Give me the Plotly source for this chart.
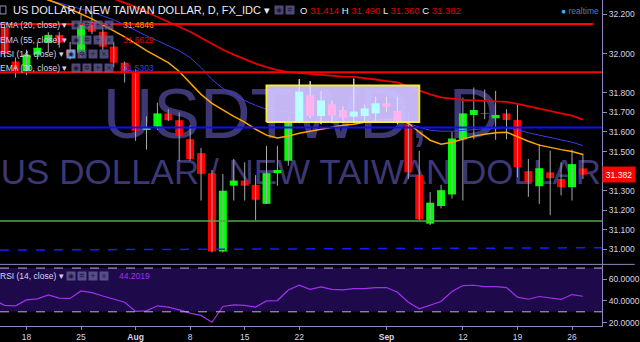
import plotly.graph_objects as go

# ---------------- data ----------------
dates = [
    '2016-07-13', '2016-07-14', '2016-07-15', '2016-07-18', '2016-07-19', '2016-07-20', '2016-07-21', '2016-07-22',
    '2016-07-25', '2016-07-26', '2016-07-27', '2016-07-28', '2016-07-29',
    '2016-08-01', '2016-08-02', '2016-08-03', '2016-08-04', '2016-08-05',
    '2016-08-08', '2016-08-09', '2016-08-10', '2016-08-11', '2016-08-12',
    '2016-08-15', '2016-08-16', '2016-08-17', '2016-08-18', '2016-08-19',
    '2016-08-22', '2016-08-23', '2016-08-24', '2016-08-25', '2016-08-26',
    '2016-08-29', '2016-08-30', '2016-08-31', '2016-09-01', '2016-09-02',
    '2016-09-05', '2016-09-06', '2016-09-07', '2016-09-08', '2016-09-09',
    '2016-09-12', '2016-09-13', '2016-09-14', '2016-09-15', '2016-09-16',
    '2016-09-19', '2016-09-20', '2016-09-21', '2016-09-22', '2016-09-23',
    '2016-09-26', '2016-09-27',
]
candle_dates = dates[1:]

open_ = [32.13, 31.96, 31.91, 31.995, 32.056, 32.096, 32.02,
         32.005, 32.162, 32.112, 32.036, 31.954,
         31.904, 31.611, 31.628, 31.695, 31.66,
         31.563, 31.492, 31.389, 30.99, 31.326,
         31.352, 31.33, 31.233, 31.39, 31.453,
         31.651, 31.787, 31.682, 31.741, 31.712,
         31.679, 31.682, 31.695, 31.746, 31.707,
         31.64, 31.381, 31.132, 31.222, 31.281,
         31.563, 31.687, 31.697, 31.67, 31.695,
         31.661, 31.40, 31.323, 31.394, 31.36,
         31.318, 31.414]
high = [32.16, 31.98, 32.02, 32.06, 32.11, 32.11, 32.06,
        32.20, 32.21, 32.16, 32.06, 31.96,
        31.92, 31.68, 31.75, 31.716, 31.70,
        31.635, 31.518, 31.406, 31.386, 31.462,
        31.445, 31.38, 31.529, 31.529, 31.68,
        31.87, 31.86, 31.81, 31.76, 31.73,
        31.873, 31.74, 31.78, 31.78, 31.78,
        31.707, 31.504, 31.293, 31.33, 31.60,
        31.775, 31.827, 31.817, 31.81, 31.716,
        31.741, 31.462, 31.538, 31.505, 31.445,
        31.51, 31.49]
low = [31.98, 31.878, 31.89, 31.97, 32.005, 32.03, 31.97,
       31.98, 32.10, 32.02, 31.93, 31.853,
       31.555, 31.51, 31.61, 31.656, 31.45,
       31.453, 31.25, 30.985, 30.985, 31.25,
       31.25, 31.149, 31.233, 31.326, 31.428,
       31.645, 31.67, 31.64, 31.645, 31.645,
       31.645, 31.655, 31.655, 31.70, 31.64,
       31.36, 31.15, 31.125, 31.21, 31.26,
       31.25, 31.563, 31.665, 31.56, 31.563,
       31.369, 31.269, 31.233, 31.175, 31.276,
       31.25, 31.36]
close = [32.00, 31.91, 31.995, 32.03, 32.096, 32.056, 31.99,
         32.157, 32.112, 32.036, 31.954, 31.904,
         31.606, 31.619, 31.695, 31.66, 31.58,
         31.462, 31.386, 30.99, 31.30, 31.352,
         31.326, 31.254, 31.39, 31.406, 31.656,
         31.806, 31.682, 31.761, 31.685, 31.674,
         31.704, 31.72, 31.746, 31.73, 31.656,
         31.394, 31.154, 31.239, 31.303, 31.567,
         31.695, 31.712, 31.693, 31.687, 31.661,
         31.42, 31.343, 31.415, 31.364, 31.318,
         31.436, 31.382]

ema20 = [32.34, 32.33, 32.32, 32.315, 32.294, 32.274, 32.254, 32.228,
         32.203, 32.178, 32.147, 32.117, 32.086,
         32.051, 32.015, 31.985, 31.954, 31.909,
         31.848, 31.792, 31.746, 31.711, 31.680,
         31.650, 31.614, 31.584, 31.569, 31.579,
         31.594, 31.604, 31.614, 31.624, 31.635,
         31.640, 31.650, 31.660, 31.665, 31.662,
         31.645, 31.599, 31.558, 31.538, 31.548,
         31.563, 31.579, 31.589, 31.596, 31.599,
         31.574, 31.553, 31.533, 31.520, 31.510,
         31.500, 31.4846]
ema30 = [32.35, 32.335, 32.32, 32.305, 32.289, 32.274, 32.259, 32.244,
         32.228, 32.213, 32.193, 32.173, 32.147,
         32.117, 32.091, 32.066, 32.041, 32.015,
         31.980, 31.929, 31.868, 31.822, 31.792,
         31.761, 31.736, 31.716, 31.706, 31.701,
         31.698, 31.695, 31.693, 31.688, 31.683,
         31.678, 31.673, 31.665, 31.660, 31.655,
         31.645, 31.624, 31.609, 31.604, 31.604,
         31.607, 31.612, 31.617, 31.619, 31.622,
         31.612, 31.596, 31.584, 31.571, 31.561,
         31.548, 31.5303]
ema55 = [32.40, 32.39, 32.38, 32.37, 32.36, 32.35, 32.34, 32.33,
         32.32, 32.31, 32.295, 32.28, 32.259,
         32.239, 32.213, 32.188, 32.162, 32.137,
         32.112, 32.081, 32.051, 32.020, 31.995,
         31.970, 31.949, 31.931, 31.916, 31.906,
         31.901, 31.896, 31.891, 31.886, 31.883,
         31.881, 31.876, 31.868, 31.860, 31.853,
         31.832, 31.812, 31.792, 31.777, 31.769,
         31.764, 31.761, 31.759, 31.756, 31.754,
         31.744, 31.731, 31.721, 31.708, 31.695,
         31.683, 31.6629]
rsi = [41.0, 35.9, 35.5, 40.9, 41.8, 45.5, 42.5, 42.2,
       49.1, 47.6, 44.5, 41.5, 38.8,
       30.4, 30.9, 35.5, 34.3, 31.8,
       28.8, 26.7, 20.4, 34.9, 36.4,
       35.8, 34.3, 40.0, 40.3, 50.0,
       54.3, 50.6, 52.8, 50.6, 50.0,
       51.2, 51.2, 52.2, 52.2, 47.9,
       38.8, 32.8, 36.4, 39.4, 48.5,
       54.0, 54.3, 53.1, 53.1, 52.2,
       43.4, 41.5, 44.0, 42.5, 41.3,
       45.8, 44.2019]

# horizontal levels drawn on the chart
level_red_top = 32.152
level_red_mid = 31.905
level_blue = 31.623
level_green = 31.146
dashed_start, dashed_end = 30.997, 31.009

# highlighted consolidation box
box_x0, box_x1 = '2016-08-17', '2016-09-06'
box_bottom, box_top = 31.651, 31.838

price_ticks = [31.0, 31.1, 31.2, 31.3, 31.5, 31.6, 31.7, 31.8, 32.0, 32.2]
rsi_ticks = [20, 40, 60]
date_ticks = ['2016-07-18', '2016-07-25', '2016-08-01', '2016-08-08', '2016-08-15', '2016-08-22',
              '2016-09-01', '2016-09-12', '2016-09-19', '2016-09-26']
date_tick_text = ['18', '25', '<b>Aug</b>', '8', '15', '22', '<b>Sep</b>', '12', '19', '26']

last_o, last_h, last_l, last_c = 31.414, 31.490, 31.360, 31.382

# ---------------- styling helpers ----------------
W_PLOT, H_PLOT = 607, 328
SPLIT_Y = 266


def px(x):
    return x / W_PLOT


def py(y):
    return 1 - y / H_PLOT


UP = '#00ff00'
DOWN = '#ff0000'
UP_BOX = '#b8ffff'
DOWN_BOX = '#ffb4ee'
WICK = '#a8a8b0'
AXIS = '#8e89bd'
TXT = '#d6d4ea'
FONT = 'Liberation Sans, Arial, sans-serif'

fig = go.Figure()


def wick_trace(idx, col):
    wx, wy = [], []
    for i in idx:
        wx += [candle_dates[i], candle_dates[i], None]
        wy += [low[i], high[i], None]
    fig.add_trace(go.Scatter(x=wx, y=wy, mode='lines', line=dict(color=col, width=1),
                             hoverinfo='skip', showlegend=False, xaxis='x', yaxis='y'))


all_idx = list(range(len(candle_dates)))
wick_trace(all_idx, WICK)
fig.add_trace(go.Bar(
    x=candle_dates,
    base=[min(o, c) for o, c in zip(open_, close)],
    y=[max(abs(c - o), 0.004) for o, c in zip(open_, close)],
    width=0.73,
    marker=dict(color=[UP if c >= o else DOWN for o, c in zip(open_, close)], line=dict(width=0)),
    showlegend=False, xaxis='x', yaxis='y'))

# EMAs
fig.add_trace(go.Scatter(x=dates, y=ema30, mode='lines', line=dict(color='#3c3cf0', width=1),
                         showlegend=False, xaxis='x', yaxis='y'))
fig.add_trace(go.Scatter(x=dates, y=ema20, mode='lines', line=dict(color='#ffa500', width=1.5),
                         showlegend=False, xaxis='x', yaxis='y'))
fig.add_trace(go.Scatter(x=dates, y=ema55, mode='lines', line=dict(color='#e80000', width=1.8),
                         showlegend=False, xaxis='x', yaxis='y'))

# highlighted box (drawn as a trace so the candles inside can sit above it)
fig.add_trace(go.Scatter(x=[box_x0, box_x1, box_x1, box_x0, box_x0],
                         y=[box_bottom, box_bottom, box_top, box_top, box_bottom],
                         mode='lines', fill='toself', fillcolor='rgba(206,192,255,0.95)',
                         line=dict(color='#f4ec3c', width=2), hoverinfo='skip',
                         showlegend=False, xaxis='x', yaxis='y'))
in_box = [i for i in all_idx
          if box_x0 < candle_dates[i] < box_x1
          and box_bottom <= min(open_[i], close[i]) and max(open_[i], close[i]) <= box_top]
wick_trace(in_box, '#e6e4f2')
for up, col in ((True, UP_BOX), (False, DOWN_BOX)):
    bx, by = [], []
    for i in in_box:
        if (close[i] >= open_[i]) == up:
            bx += [candle_dates[i], candle_dates[i], None]
            by += [min(open_[i], close[i]), max(open_[i], close[i]), None]
    fig.add_trace(go.Scatter(x=bx, y=by, mode='lines', line=dict(color=col, width=8),
                             hoverinfo='skip', showlegend=False, xaxis='x', yaxis='y'))

# RSI
fig.add_trace(go.Scatter(x=dates, y=rsi, mode='lines', line=dict(color='#a030f0', width=1.2),
                         showlegend=False, xaxis='x', yaxis='y2'))

shapes = [
    # watermark texts (below everything)
    dict(type='rect', xref='paper', yref='paper', x0=px(0), x1=px(607), y0=py(146), y1=py(70),
         line=dict(width=0), fillcolor='rgba(0,0,0,0)', layer='below',
         label=dict(text='USDTWD, D', textposition='middle center',
                    font=dict(size=70, color='#3d3874', family=FONT))),
    dict(type='rect', xref='paper', yref='paper', x0=px(0), x1=px(607), y0=py(190), y1=py(150),
         line=dict(width=0), fillcolor='rgba(0,0,0,0)', layer='below',
         label=dict(text='US DOLLAR / NEW TAIWAN DOLLAR', textposition='middle center',
                    font=dict(size=35, color='#3d3874', family=FONT))),
    # RSI band
    dict(type='rect', xref='paper', yref='y2', x0=0, x1=1, y0=30, y1=70,
         fillcolor='#1e0a4b', line=dict(width=0), layer='below'),
    dict(type='line', xref='paper', yref='y2', x0=0, x1=1, y0=70, y1=70,
         line=dict(color='#b8b0d8', width=1, dash='dash')),
    dict(type='line', xref='paper', yref='y2', x0=0, x1=1, y0=30, y1=30,
         line=dict(color='#b8b0d8', width=1, dash='dash')),
    # pane separator
    dict(type='line', xref='paper', yref='paper', x0=0, x1=640 / W_PLOT, y0=py(SPLIT_Y), y1=py(SPLIT_Y),
         line=dict(color=AXIS, width=1)),
    # horizontal levels
    dict(type='line', xref='paper', yref='y', x0=0, x1=px(598), y0=level_red_top, y1=level_red_top,
         line=dict(color='#ff0000', width=2)),
    dict(type='line', xref='paper', yref='y', x0=0, x1=1, y0=level_red_mid, y1=level_red_mid,
         line=dict(color='#ff0000', width=2)),
    dict(type='line', xref='paper', yref='y', x0=0, x1=1, y0=level_blue, y1=level_blue,
         line=dict(color='#0a10ff', width=2)),
    dict(type='line', xref='paper', yref='y', x0=0, x1=1, y0=level_green, y1=level_green,
         line=dict(color='#4cab44', width=1.5)),
    dict(type='line', xref='paper', yref='y', x0=0, x1=1, y0=dashed_start, y1=dashed_end,
         line=dict(color='#1a1aff', width=1.5, dash='dash')),
    # small collapse icon
    dict(type='rect', xref='paper', yref='paper', x0=px(0), x1=px(6), y0=py(14), y1=py(6),
         line=dict(color='#9a96c0', width=1), fillcolor='rgba(0,0,0,0)'),
]

ann = []


def text(x, y, s, size=8.5, color=TXT, anchor='left', **kw):
    ann.append(dict(xref='paper', yref='paper', x=px(x), y=py(y), text=s, showarrow=False,
                    xanchor=anchor, yanchor='middle', font=dict(size=size, color=color, family=FONT), **kw))


def icons(x, y, syms, first_col='rgba(105,100,160,0.75)'):
    for k, s in enumerate(syms):
        col = first_col if k == 0 else 'rgba(105,100,160,0.75)'
        ann.append(dict(xref='paper', yref='paper', x=px(x + 11 * k), y=py(y), text=s, showarrow=False,
                        xanchor='left', yanchor='middle', width=7, height=7,
                        bgcolor=col, borderpad=0.5,
                        font=dict(size=7, color='#1c1a30', family='DejaVu Sans')))


# header
text(11, 10.5, 'US DOLLAR / NEW TAIWAN DOLLAR, D, FX_IDC ▾', size=11, color='#ecebf7')
icons(276, 10.5, ['◉', '✲'])
red = '#e00000'
text(300, 10.5,
     f"O <span style='color:{red}'>{last_o:.3f}</span> H <span style='color:{red}'>{last_h:.3f}</span> "
     f"L <span style='color:{red}'>{last_l:.3f}</span> C <span style='color:{red}'>{last_c:.3f}</span>",
     size=9.5, color='#ecebf7')
text(564, 11, "<span style='color:#4aa8f0'>●</span> realtime", size=8.5, color='#3f86b8')

# legend rows
rows = [(25, 'EMA (20, close) ▾', f'{ema20[-1]:.4f}', '#ffa500', 72, False),
        (40, 'EMA (55, close) ▾', f'{ema55[-1]:.4f}', '#e00000', 72, False),
        (54.5, 'RSI (14, close) ▾', None, None, 67, True),
        (68.5, 'EMA (30, close) ▾', f'{ema30[-1]:.4f}', '#3c3cf0', 72, False)]
for y, label, val, vcol, ix, hl in rows:
    text(-2, y, label, size=8.5)
    icons(ix, y, ['◉', '✲', '+', '×'], first_col='rgba(120,170,240,0.9)' if hl else 'rgba(105,100,160,0.75)')
    if val:
        text(122, y, val, size=8.5, color=vcol)

text(-2, 278, 'RSI (14, close) ▾', size=8.5)
icons(67, 278, ['◉', '✲', '+', '×'])
text(118, 278, f'{rsi[-1]:.4f}', size=8.5, color='#a030f0')

# last price label on axis
ann.append(dict(xref='paper', yref='y', x=1, y=last_c, text=f'{last_c:.3f}', showarrow=False,
                xanchor='left', yanchor='middle', bgcolor='#ff0000', width=30, height=13, borderpad=1,
                font=dict(size=8.5, color='#ffffff', family=FONT)))

fig.update_layout(
    width=640, height=342,
    margin=dict(l=0, r=33, t=0, b=14),
    paper_bgcolor='#000000', plot_bgcolor='#000000',
    barmode='overlay', showlegend=False,
    shapes=shapes, annotations=ann,
    xaxis=dict(type='category', categoryorder='array', categoryarray=dates,
               anchor='y2', range=[0.573, 55.75], tickmode='array',
               tickvals=date_ticks, ticktext=date_tick_text, showgrid=False, zeroline=False,
               showline=True, linecolor=AXIS, linewidth=1, ticks='outside', ticklen=3, tickcolor=AXIS,
               tickfont=dict(size=8.5, color=TXT, family=FONT), rangeslider=dict(visible=False),
               fixedrange=True),
    yaxis=dict(domain=[1 - SPLIT_Y / H_PLOT, 1], range=[30.924, 32.274], side='right', anchor='x',
               tickmode='array', tickvals=price_ticks, ticktext=[f'{v:.3f}' for v in price_ticks],
               showgrid=False, zeroline=False, showline=True, linecolor=AXIS, linewidth=1,
               ticks='outside', ticklen=4, tickcolor=AXIS,
               tickfont=dict(size=8.5, color=TXT, family=FONT)),
    yaxis2=dict(domain=[0, 1 - SPLIT_Y / H_PLOT], range=[17, 73.4], side='right', anchor='x',
                tickmode='array', tickvals=rsi_ticks, ticktext=[f'{v:.4f}' for v in rsi_ticks],
                showgrid=False, zeroline=False, showline=True, linecolor=AXIS, linewidth=1,
                ticks='outside', ticklen=4, tickcolor=AXIS,
                tickfont=dict(size=8.5, color=TXT, family=FONT)),
)

fig.write_html('out.html', config=dict(displayModeBar=False))
